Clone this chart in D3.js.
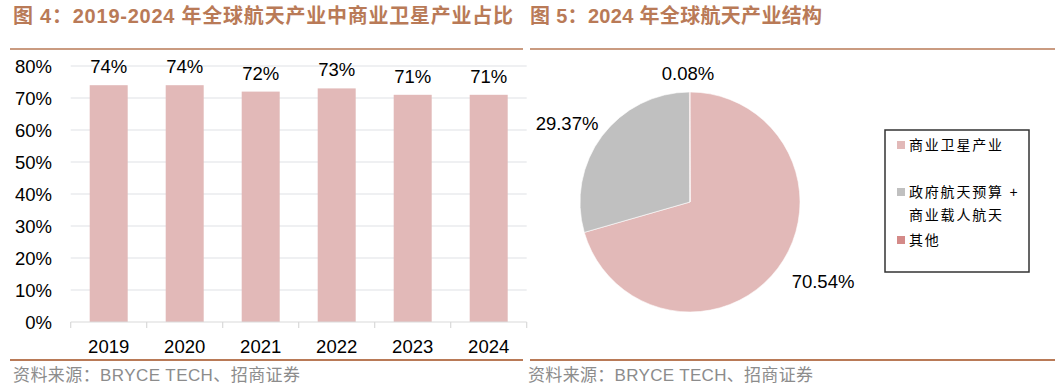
<!DOCTYPE html>
<html><head><meta charset="utf-8">
<script src="https://cdn.jsdelivr.net/npm/d3@7"></script>
<style>body{margin:0;background:#fff}svg{display:block}</style>
</head><body>
<svg id="c" width="1060" height="392"></svg>
<script>
const years = ["2019","2020","2021","2022","2023","2024"];
const shares = [74, 74, 72, 73, 71, 71];
const yTicks = [0,10,20,30,40,50,60,70,80];
const pieLabels = ["商业卫星产业", "政府航天预算 + 商业载人航天", "其他"];
const pieValues = [70.54, 29.37, 0.08];
const pieColors = ["#e2b9b8", "#c0c0c0", "#d48a88"];
const title1 = "图 4：2019-2024 年全球航天产业中商业卫星产业占比";
const title2 = "图 5：2024 年全球航天产业结构";
const source = "资料来源：BRYCE TECH、招商证券";

const svg = d3.select("#c");
const brown = "#b97a57";
const sans = "Arial, 'Liberation Sans', sans-serif";
const mix = "Arial, 'Liberation Sans', 'Noto Sans CJK SC', sans-serif";

// titles
svg.append("text").attr("x",13).attr("y",23).attr("font-family",mix).attr("font-weight","bold")
  .attr("font-size",20).attr("fill",brown).attr("textLength",500).attr("lengthAdjust","spacing").text(title1);
svg.append("text").attr("x",530).attr("y",23).attr("font-family",mix).attr("font-weight","bold")
  .attr("font-size",20).attr("fill",brown).attr("textLength",292).attr("lengthAdjust","spacing").text(title2);
[[10,523],[530,1055]].forEach(([a,b])=>{
  svg.append("line").attr("x1",a).attr("x2",b).attr("y1",49).attr("y2",49).attr("stroke",brown).attr("stroke-width",1.5);
  svg.append("line").attr("x1",a).attr("x2",b).attr("y1",360).attr("y2",360).attr("stroke",brown).attr("stroke-width",2);
});
svg.append("text").attr("x",13).attr("y",381).attr("font-family",mix).attr("font-size",17).attr("fill","#8c8c8c")
  .attr("textLength",287).attr("lengthAdjust","spacing").text(source);
svg.append("text").attr("x",528).attr("y",381).attr("font-family",mix).attr("font-size",17).attr("fill","#8c8c8c")
  .attr("textLength",285).attr("lengthAdjust","spacing").text(source);

// bar chart
const x = d3.scaleBand().domain(years).range([70.7, 526.7]).paddingInner(0.5).paddingOuter(0.25);
const y = d3.scaleLinear().domain([0,80]).range([322,66]);
const g = svg.append("g");
g.selectAll("line.grid").data(yTicks.slice(1)).join("line").attr("class","grid")
  .attr("x1",70.7).attr("x2",526.7).attr("y1",d=>y(d)).attr("y2",d=>y(d))
  .attr("stroke","#dfe2e6").attr("stroke-width",1.2);
g.selectAll("text.yt").data(yTicks).join("text").attr("class","yt")
  .attr("x",52).attr("y",d=>y(d)+6.5).attr("text-anchor","end")
  .attr("font-family",sans).attr("font-size",18.5).attr("fill","#000").text(d=>d+"%");
g.selectAll("rect").data(shares).join("rect")
  .attr("x",(d,i)=>x(years[i])).attr("width",x.bandwidth())
  .attr("y",d=>y(d)).attr("height",d=>y(0)-y(d)).attr("fill","#e2b9b8");
g.selectAll("text.vl").data(shares).join("text").attr("class","vl")
  .attr("x",(d,i)=>x(years[i])+x.bandwidth()/2).attr("y",d=>y(d)-12).attr("text-anchor","middle")
  .attr("font-family",sans).attr("font-size",18.5).attr("fill","#000").text(d=>d+"%");
// axis
g.append("line").attr("x1",70.7).attr("x2",526.7).attr("y1",322).attr("y2",322).attr("stroke","#d9d9d9").attr("stroke-width",1.2);
const step = x.step();
g.selectAll("line.tk").data(d3.range(years.length+1)).join("line").attr("class","tk")
  .attr("x1",i=>70.7+i*step).attr("x2",i=>70.7+i*step).attr("y1",322).attr("y2",328)
  .attr("stroke","#d9d9d9").attr("stroke-width",1.2);
g.selectAll("text.xt").data(years).join("text").attr("class","xt")
  .attr("x",d=>x(d)+x.bandwidth()/2).attr("y",353).attr("text-anchor","middle")
  .attr("font-family",sans).attr("font-size",18.5).attr("fill","#000").text(d=>d);

// pie
const cx=690, cy=202, r=110;
const pie = d3.pie().sort(null).value(d=>d)(pieValues);
const arc = d3.arc().innerRadius(0).outerRadius(r);
const pg = svg.append("g").attr("transform",`translate(${cx},${cy})`);
pg.selectAll("path").data(pie).join("path").attr("d",arc).attr("fill",(d,i)=>pieColors[i])
  .attr("stroke","#fff").attr("stroke-width",0.6);
const labelPos = [[133,86],[-123,-72],[-2,-122]];
pg.selectAll("text").data(pieValues).join("text")
  .attr("x",(d,i)=>labelPos[i][0]).attr("y",(d,i)=>labelPos[i][1]).attr("text-anchor","middle")
  .attr("font-family",sans).attr("font-size",18.5).attr("fill","#000").text(d=>d.toFixed(2)+"%");

// legend
svg.append("rect").attr("x",885).attr("y",130).attr("width",144).attr("height",142)
  .attr("fill","#fff").attr("stroke","#333").attr("stroke-width",1.5);
const legItems = [
  {c:pieColors[0], lines:["商业卫星产业"], y:145},
  {c:pieColors[1], lines:["政府航天预算 +","商业载人航天"], y:192},
  {c:pieColors[2], lines:["其他"], y:240}
];
legItems.forEach(it=>{
  svg.append("rect").attr("x",897).attr("y",it.y-4).attr("width",8).attr("height",8).attr("fill",it.c);
  it.lines.forEach((t,j)=>{
    svg.append("text").attr("x",909).attr("y",it.y+5+j*22.5).attr("font-family",mix)
      .attr("font-size",14).attr("letter-spacing",1.8).attr("fill","#000").text(t);
  });
});
</script>
</body></html>
